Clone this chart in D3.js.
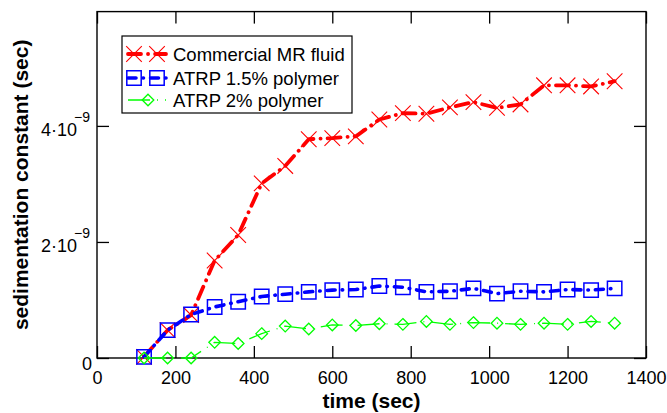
<!DOCTYPE html>
<html>
<head>
<meta charset="utf-8">
<script src="https://cdn.jsdelivr.net/npm/d3@7"></script>
<style>
  body { margin: 0; background: #fff; }
  text { font-family: "Liberation Sans", Arial, Helvetica, sans-serif; fill: #000; }
</style>
</head>
<body>
<svg id="chart" width="667" height="413"></svg>
<script>
// Sampling times (sec)
const times = [120, 180, 240, 300, 360, 420, 480, 540, 600, 660, 720, 780, 840, 900, 960, 1020, 1080, 1140, 1200, 1260, 1320];
// Sedimentation constants, in units of 1e-9 sec
const mrFluid = [0.02, 0.48, 0.74, 1.68, 2.12, 3.01, 3.31, 3.77, 3.79, 3.82, 4.11, 4.22, 4.21, 4.32, 4.41, 4.31, 4.37, 4.70, 4.70, 4.68, 4.77];
const atrp15 = [0.02, 0.48, 0.75, 0.88, 0.97, 1.06, 1.10, 1.14, 1.17, 1.18, 1.24, 1.22, 1.14, 1.15, 1.20, 1.11, 1.15, 1.14, 1.18, 1.17, 1.20];
const atrp2 = [0.00, 0.00, 0.00, 0.27, 0.25, 0.42, 0.55, 0.50, 0.57, 0.56, 0.59, 0.58, 0.63, 0.58, 0.61, 0.60, 0.58, 0.60, 0.58, 0.63, 0.60];

const seriesNames = ["Commercial MR fluid", "ATRP 1.5% polymer", "ATRP 2% polymer"];
const seriesColors = ["#ff0000", "#0000ff", "#00ff00"];

const xTicks = [0, 200, 400, 600, 800, 1000, 1200, 1400];
const yTicks = [0, 2, 4];
const yTickMantissa = ["0", "2·10", "4·10"];
const yTickExponent = ["", "−9", "−9"];

const svg = d3.select("#chart");
const W = 667, H = 413;
svg.append("rect").attr("width", W).attr("height", H).attr("fill", "#fff");

const plot = { left: 97, right: 646, top: 11.6, bottom: 358 };
const x = d3.scaleLinear().domain([0, 1400]).range([plot.left, plot.right]);
const y = d3.scaleLinear().domain([0, 5.97]).range([plot.bottom, plot.top]);

const tickLen = 12;

// Bottom axis with inward ticks
const xAxis = d3.axisBottom(x).tickValues(xTicks).tickSizeInner(-tickLen).tickSizeOuter(0)
  .tickPadding(13.2).tickFormat(d3.format("d"));
const gx = svg.append("g").attr("transform", `translate(0,${plot.bottom})`).call(xAxis);
gx.select(".domain").remove();
gx.selectAll(".tick line").attr("stroke", "#000").attr("stroke-width", 1.3);
gx.selectAll(".tick text").attr("font-size", 18).attr("fill", "#000");

// Top mirror ticks
const gxt = svg.append("g").attr("transform", `translate(0,${plot.top})`)
  .call(d3.axisTop(x).tickValues(xTicks).tickSizeInner(-tickLen).tickSizeOuter(0).tickFormat(""));
gxt.select(".domain").remove();
gxt.selectAll(".tick line").attr("stroke", "#000").attr("stroke-width", 1.3);

// Left axis ticks (labels added separately for the superscripts)
const gy = svg.append("g").attr("transform", `translate(${plot.left},0)`)
  .call(d3.axisLeft(y).tickValues(yTicks).tickSizeInner(-tickLen).tickSizeOuter(0).tickFormat(""));
gy.select(".domain").remove();
gy.selectAll(".tick line").attr("stroke", "#000").attr("stroke-width", 1.3);

const gyr = svg.append("g").attr("transform", `translate(${plot.right},0)`)
  .call(d3.axisRight(y).tickValues(yTicks).tickSizeInner(-tickLen).tickSizeOuter(0).tickFormat(""));
gyr.select(".domain").remove();
gyr.selectAll(".tick line").attr("stroke", "#000").attr("stroke-width", 1.3);

// y tick labels: mantissa plus superscript exponent
yTicks.forEach((v, i) => {
  const t = svg.append("text")
    .attr("text-anchor", "end")
    .attr("font-size", 18);
  if (yTickExponent[i]) {
    t.attr("x", 90).attr("y", y(v) + 10);
    t.append("tspan").text(yTickMantissa[i]);
    t.append("tspan").attr("font-size", 14).attr("dx", -3).attr("dy", -14).text(yTickExponent[i]);
  } else {
    t.attr("x", 92).attr("y", y(v) + 12).text(yTickMantissa[i]);
  }
});

// Frame
svg.append("rect")
  .attr("x", plot.left).attr("y", plot.top)
  .attr("width", plot.right - plot.left).attr("height", plot.bottom - plot.top)
  .attr("fill", "none").attr("stroke", "#000").attr("stroke-width", 1.4);

// Axis titles
svg.append("text")
  .attr("x", (plot.left + plot.right) / 2).attr("y", 408)
  .attr("text-anchor", "middle").attr("font-size", 21).attr("font-weight", "bold")
  .text("time (sec)");
svg.append("text")
  .attr("transform", `translate(28,${(plot.top + plot.bottom) / 2}) rotate(-90)`)
  .attr("text-anchor", "middle").attr("font-size", 21).attr("font-weight", "bold")
  .text("sedimentation constant (sec)");

// Series styling
const styles = [
  { width: 3.8, dash: "13,7,0.1,7", cap: "round" },
  { width: 3.6, dash: "8,7,0.5,7", cap: "round" },
  { width: 1.3, dash: "22,7,1,7", cap: "butt" }
];
const markerPaths = [
  "M-7.8,-7.8L7.8,7.8M-7.8,7.8L7.8,-7.8",
  "M-7.2,-7.2H7.2V7.2H-7.2Z",
  "M0,-5.8L5.8,0L0,5.8L-5.8,0Z"
];
const markerWidths = [1.1, 1.5, 1.3];

const seriesValues = [mrFluid, atrp15, atrp2];
const line = d3.line().x(d => x(d[0])).y(d => y(d[1]));

seriesValues.forEach((vals, i) => {
  const pts = times.map((t, j) => [t, vals[j]]);
  const g = svg.append("g");
  g.append("path")
    .attr("d", line(pts))
    .attr("fill", "none")
    .attr("stroke", seriesColors[i])
    .attr("stroke-width", styles[i].width)
    .attr("stroke-dasharray", styles[i].dash)
    .attr("stroke-linecap", styles[i].cap)
    .attr("stroke-linejoin", "round");
  g.selectAll("path.mk").data(pts).join("path")
    .attr("class", "mk")
    .attr("transform", d => `translate(${x(d[0])},${y(d[1])})`)
    .attr("d", markerPaths[i])
    .attr("fill", "none")
    .attr("stroke", seriesColors[i])
    .attr("stroke-width", markerWidths[i]);
});

// Legend
const legend = svg.append("g");
legend.append("rect")
  .attr("x", 122).attr("y", 36).attr("width", 230).attr("height", 77)
  .attr("fill", "#fff").attr("stroke", "#000").attr("stroke-width", 1.2);
const rowY = [54, 78, 100];
const sampleMarkers = [[134, 157], [134, 157], [148]];
seriesNames.forEach((name, i) => {
  const ry = rowY[i];
  legend.append("line")
    .attr("x1", 128).attr("x2", 166).attr("y1", ry).attr("y2", ry)
    .attr("stroke", seriesColors[i])
    .attr("stroke-width", styles[i].width)
    .attr("stroke-dasharray", styles[i].dash)
    .attr("stroke-linecap", styles[i].cap);
  sampleMarkers[i].forEach(mx => {
    legend.append("path")
      .attr("transform", `translate(${mx},${ry})`)
      .attr("d", markerPaths[i])
      .attr("fill", "none")
      .attr("stroke", seriesColors[i])
      .attr("stroke-width", markerWidths[i]);
  });
  legend.append("text")
    .attr("x", 173).attr("y", ry + 7)
    .attr("font-size", 18.5)
    .text(name);
});
</script>
</body>
</html>
